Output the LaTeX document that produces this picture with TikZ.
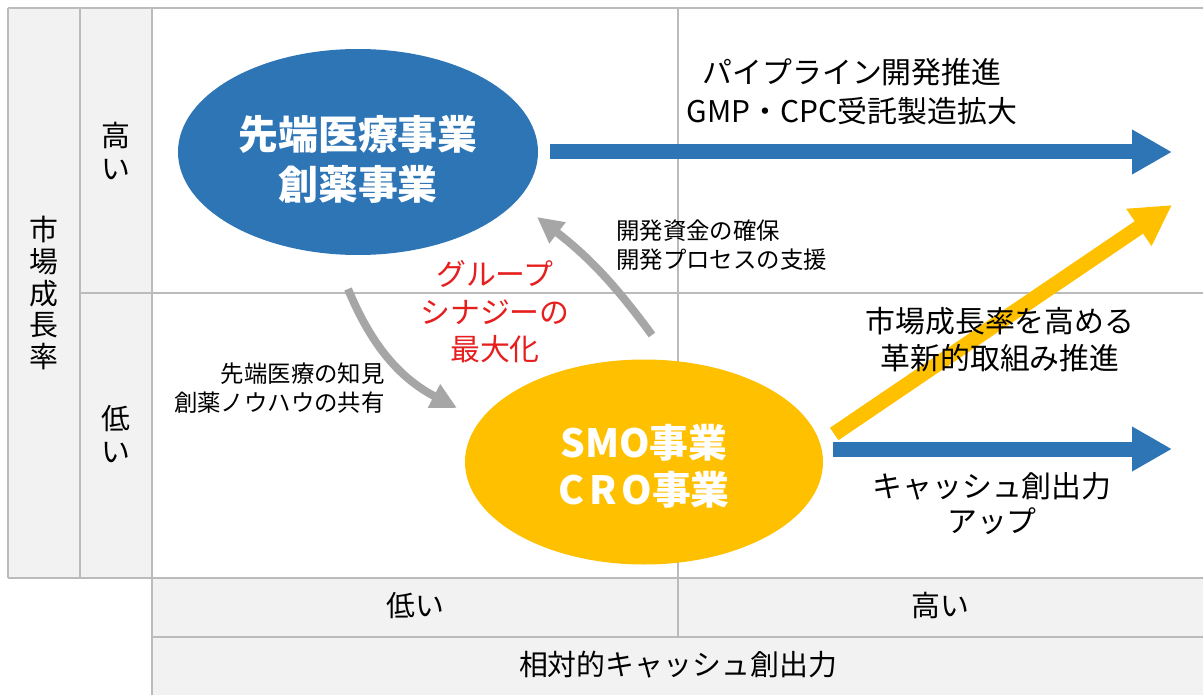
\documentclass[tikz,border=0pt]{standalone}
\usepackage{fontspec}
\setmainfont{Noto Sans CJK JP}
\usetikzlibrary{arrows.meta,shapes.geometric}
\definecolor{cblue}{HTML}{2E75B6}
\definecolor{cyel}{HTML}{FFC000}
\definecolor{cgray}{HTML}{A6A6A6}
\definecolor{cline}{HTML}{BBBBBB}
\definecolor{chead}{HTML}{F2F2F2}
\definecolor{cred}{HTML}{E61E1E}
\begin{document}
\begin{tikzpicture}[x=1bp,y=-1bp,
  gridline/.style={draw=cline,line width=1.8bp},
  lbl/.style={font=\fontsize{30}{37}\selectfont, align=center, inner sep=0pt, text=black},
  smalllbl/.style={font=\fontsize{23.5}{29.5}\selectfont, inner sep=0pt, text=black},
  synlbl/.style={font=\fontsize{30}{37.5}\selectfont, align=center, inner sep=0pt, text=cred},
  ovaltxt/.style={font=\fontsize{40}{50}\bfseries\selectfont, align=center, inner sep=0pt, text=white},
  blockarrow/.style={draw=#1, line width=15bp, -{Triangle[length=40bp,width=42bp]}},
  grayarrow/.style={draw=cgray, line width=8bp, -{Triangle[length=26bp,width=25bp]}}
]
\useasboundingbox (0,0) rectangle (1203,695);
\fill[white] (0,0) rectangle (1203,695);
% header fills
\fill[chead] (8,8) rectangle (152,578);
\fill[chead] (152,578) rectangle (1203,695);
% grid
\draw[gridline] (8,8) -- (1203,8);
\draw[gridline] (8,8) -- (8,578);
\draw[gridline] (80,8) -- (80,578);
\draw[gridline] (152,8) -- (152,695);
\draw[gridline] (80,293) -- (1203,293);
\draw[gridline] (8,578) -- (1203,578);
\draw[gridline] (152,637) -- (1203,637);
\draw[gridline] (678,8) -- (678,637);

% axis labels
\node[lbl, font=\fontsize{29}{31.7}\selectfont] (mkt) at (44,293) {市\\場\\成\\長\\率};
\node[lbl, font=\fontsize{29}{33}\selectfont] (hi) at (116,151) {高\\い};
\node[lbl, font=\fontsize{29}{33}\selectfont] (lo) at (116,434) {低\\い};
\node[lbl, font=\fontsize{29}{35}\selectfont] (xlo) at (415,606) {低い};
\node[lbl, font=\fontsize{29}{35}\selectfont] (xhi) at (940,606) {高い};
\node[lbl, font=\fontsize{29}{35}\selectfont] (xlab) at (678,665) {相対的キャッシュ創出力};

% ellipses
\node[ellipse, fill=cblue, minimum width=360bp, minimum height=206bp, inner sep=0pt] (adv) at (358,152) {};
\node[ovaltxt] (advtxt) at (358,159) {先端医療事業\\創薬事業};
\node[ellipse, fill=cyel, minimum width=358bp, minimum height=205bp, inner sep=0pt] (smo) at (644,462) {};
\node[ovaltxt, font=\fontsize{39}{47}\bfseries\selectfont] (smotxt) at (644,466) {SMO事業\\C\kern5bp R\kern5bp O事業};

% block arrows
\coordinate (tip1) at (1172,152);
\coordinate (tip2) at (1172,449);
\coordinate (tip3) at (1172,205);
\draw[blockarrow=cblue, shorten <=12bp] (adv.east) -- (tip1);
\draw[blockarrow=cblue] ([shift={(10,-13)}]smo.east) -- (tip2);
\draw[blockarrow=cyel] ([shift={(11,-28)}]smo.east) -- (tip3);

% gray synergy arrows
\coordinate (g1s) at (348,289);
\coordinate (g1e) at (457,408);
\coordinate (g2s) at (652,335);
\coordinate (g2e) at (537,217);
\draw[grayarrow] (g1s) to[bend right=20] (g1e);
\draw[grayarrow] (g2s) to[bend right=8] (g2e);

% texts
\node[lbl, font=\fontsize{30}{39}\selectfont] (pipe) at (852,92) {パイプライン開発推進\\GMP・CPC受託製造拡大};
\node[smalllbl, align=left, anchor=west] (fund) at (616,245) {開発資金の確保\\開発プロセスの支援};
\node[synlbl] (syn) at (495,312) {グループ\\シナジーの\\最大化};
\node[smalllbl, align=right, anchor=east] (know) at (385,388) {先端医療の知見\\創薬ノウハウの共有};
\node[lbl] (innov) at (1000,340) {市場成長率を高める\\革新的取組み推進};
\node[lbl, font=\fontsize{30}{35}\selectfont] (cash) at (992,504) {キャッシュ創出力\\アップ};
\end{tikzpicture}
\end{document}
